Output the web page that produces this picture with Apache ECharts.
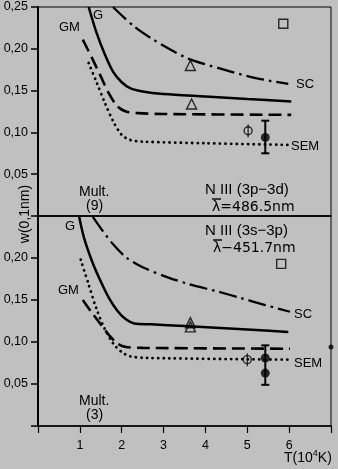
<!DOCTYPE html>
<html>
<head>
<meta charset="utf-8">
<script src="https://cdn.jsdelivr.net/npm/echarts@6/dist/echarts.min.js"></script>
<style>
  html, body { margin: 0; padding: 0; background: #c0c0c0; }
  #chart { width: 338px; height: 469px; }
</style>
</head>
<body>
<div id="chart"></div>
<script>
// curves, [T (10^4 K), w (0.1 nm)]
var topG   = [[1.21,0.25],[1.4,0.219],[1.6,0.193],[1.8,0.172],[2.0,0.160],[2.2,0.153],[2.5,0.149],[3,0.146],[4,0.143],[5,0.140],[6.05,0.137]];
var topGM  = [[1.07,0.211],[1.3,0.188],[1.5,0.167],[1.7,0.146],[1.9,0.131],[2.1,0.125],[2.4,0.123],[3,0.122],[6.05,0.121]];
var topSEM = [[1.21,0.183],[1.4,0.160],[1.6,0.135],[1.8,0.113],[2.0,0.097],[2.2,0.091],[2.5,0.089],[4,0.087],[6,0.085]];
var topSC  = [[1.79,0.25],[2.29,0.227],[2.69,0.213],[3.17,0.199],[3.6,0.188],[4.38,0.176],[5.2,0.165],[5.98,0.158]];

var botG   = [[0.98,0.25],[1.1,0.224],[1.3,0.195],[1.5,0.172],[1.7,0.152],[1.9,0.137],[2.1,0.127],[2.3,0.122],[2.7,0.121],[3.5,0.119],[5,0.115],[5.98,0.112]];
var botGM  = [[1.07,0.150],[1.3,0.134],[1.5,0.121],[1.7,0.108],[1.9,0.098],[2.1,0.094],[2.5,0.093],[6.02,0.092]];
var botSEM = [[1.02,0.198],[1.2,0.170],[1.4,0.139],[1.6,0.115],[1.8,0.098],[2.0,0.088],[2.2,0.083],[2.6,0.081],[6,0.079]];
var botSC  = [[1.31,0.249],[1.55,0.232],[1.8,0.216],[2.1,0.201],[2.5,0.189],[3.1,0.177],[3.6,0.169],[4.3,0.160],[4.8,0.153],[5.43,0.144],[6.02,0.136]];

// measured points
var topSquare   = [[5.86,0.23]];
var topTriangle = [[3.64,0.18],[3.67,0.134]];
var topPhi      = [[5.02,0.102]];
var topFilled   = [[5.43,0.094]];
var topErr      = [[5.43,0.075,0.114]];

var botSquare   = [[5.81,0.193]];
var botTriangle = [[3.64,0.118],[3.64,0.123]];
var botPhi      = [[5.0,0.079]];
var botFilled   = [[5.43,0.081],[5.43,0.063]];
var botErr      = [[5.43,0.049,0.096]];
var botEdge     = [[7,0.094]];

var xTicks = [1, 2, 3, 4, 5, 6];

var FONT = 'Liberation Sans, Arial, sans-serif';
var WIDE = 'DejaVu Sans, sans-serif';
var INK = '#000';

var myChart = echarts.init(document.getElementById('chart'));

function yAxis(idx, maxLabel) {
    return {
        type: 'value', gridIndex: idx, min: 0, max: 0.25, interval: 0.05,
        axisLine: { show: true, lineStyle: { color: INK, width: 2 } },
        axisTick: { show: true, length: 7, lineStyle: { color: INK, width: 1.5 } },
        splitLine: { show: false },
        axisLabel: {
            margin: 10, color: INK, fontFamily: FONT, fontSize: 12.5,
            formatter: function (v) {
                if (v < 0.01 || v > maxLabel + 0.001) return '';
                return v.toFixed(2).replace('.', ',');
            }
        }
    };
}

function xAxis(idx, labels) {
    return {
        type: 'value', gridIndex: idx, min: 0, max: 7, interval: 1,
        axisLine: { show: true, lineStyle: { color: INK, width: 1.5 } },
        axisTick: { show: labels, length: 7, lineStyle: { color: INK, width: 1.2 } },
        splitLine: { show: false },
        axisLabel: {
            show: labels, margin: 13, color: INK, fontFamily: FONT, fontSize: 12.5,
            formatter: function (v) { return xTicks.indexOf(v) >= 0 ? String(v) : ''; }
        }
    };
}

function curve(idx, data, type, width) {
    return {
        type: 'line', xAxisIndex: idx, yAxisIndex: idx, data: data,
        smooth: 0.3, symbol: 'none', silent: true,
        lineStyle: { color: INK, width: width, type: type, cap: type === dotted ? 'round' : 'butt' }
    };
}

function marks(idx, data, symbol, size, filled) {
    return {
        type: 'scatter', xAxisIndex: idx, yAxisIndex: idx, data: data,
        symbol: symbol, symbolSize: size, silent: true,
        itemStyle: filled ? { color: INK } : { color: 'transparent', borderColor: INK, borderWidth: 1.4 }
    };
}

function errBars(idx, data) {
    return {
        type: 'custom', xAxisIndex: idx, yAxisIndex: idx, data: data, silent: true,
        renderItem: function (params, api) {
            var lo = api.coord([api.value(0), api.value(1)]);
            var hi = api.coord([api.value(0), api.value(2)]);
            var st = { stroke: INK, lineWidth: 2 };
            return {
                type: 'group', children: [
                    { type: 'line', shape: { x1: lo[0], y1: lo[1], x2: hi[0], y2: hi[1] }, style: st },
                    { type: 'line', shape: { x1: lo[0] - 4, y1: lo[1], x2: lo[0] + 4, y2: lo[1] }, style: st },
                    { type: 'line', shape: { x1: hi[0] - 4, y1: hi[1], x2: hi[0] + 4, y2: hi[1] }, style: st }
                ]
            };
        }
    };
}

function phi(idx, data) {
    return [marks(idx, data, 'circle', 8, false), marks(idx, data, 'rect', [1.3, 13], true)];
}

function txt(x, y, s, size, font) {
    return {
        type: 'text', x: x, y: y, silent: true,
        style: { text: s, fill: INK, font: (size || 13) + 'px ' + (font || FONT), textAlign: 'left', textVerticalAlign: 'middle' }
    };
}

// short bar drawn over a lambda
function bar(x, y) {
    return { type: 'line', silent: true, shape: { x1: x, y1: y, x2: x + 9, y2: y }, style: { stroke: INK, lineWidth: 1.4 } };
}

var dashDot = [18, 5, 2.5, 5];
var dashed = [13, 6];
var dotted = [0.1, 5.5];

var option = {
    backgroundColor: '#c0c0c0',
    animation: false,
    grid: [
        { left: 38, top: 7, width: 293, height: 209, show: true, borderColor: INK, borderWidth: 1, backgroundColor: 'transparent' },
        { left: 38, top: 216, width: 293, height: 210, show: true, borderColor: INK, borderWidth: 1, backgroundColor: 'transparent' }
    ],
    xAxis: [xAxis(0, false), xAxis(1, true)],
    yAxis: [yAxis(0, 0.25), yAxis(1, 0.20)],
    series: [
        curve(0, topG, 'solid', 2.5),
        curve(0, topGM, dashed, 2.6),
        curve(0, topSEM, dotted, 2.8),
        curve(0, topSC, dashDot, 2.3),
        curve(1, botG, 'solid', 2.5),
        curve(1, botGM, dashed, 2.6),
        curve(1, botSEM, dotted, 2.8),
        curve(1, botSC, dashDot, 2.3),
        marks(0, topSquare, 'rect', 9, false),
        marks(0, topTriangle, 'triangle', 10, false),
        errBars(0, topErr),
        marks(0, topFilled, 'circle', 9, true),
        marks(1, botSquare, 'rect', 9, false),
        marks(1, botTriangle, 'triangle', 10, false),
        errBars(1, botErr),
        marks(1, botFilled, 'circle', 9, true),
        Object.assign(marks(1, botEdge, 'circle', 5, true), { clip: false })
    ].concat(phi(0, topPhi), phi(1, botPhi)),
    graphic: [
        txt(93, 15, 'G'),
        txt(59, 27, 'GM'),
        txt(296, 84, 'SC'),
        txt(291, 146, 'SEM'),
        txt(79, 192, 'Mult.', 14),
        txt(86, 206, '(9)', 14),
        txt(205, 190, 'N III (3p−3d)', 15),
        txt(212, 207, 'λ=486.5nm', 14, WIDE),
        bar(212, 199),
        txt(65, 226, 'G'),
        txt(58, 290, 'GM'),
        txt(294, 314, 'SC'),
        txt(294, 363, 'SEM'),
        txt(205, 231, 'N III (3s−3p)', 15),
        txt(213, 248, 'λ−451.7nm', 14, WIDE),
        bar(213, 240),
        txt(79, 401, 'Mult.', 14),
        txt(86, 415, '(3)', 14),
        {
            type: 'text', x: 284, y: 458, silent: true,
            style: {
                text: '{n|T(10}{s|4}{n|K)}', fill: INK, textVerticalAlign: 'middle',
                rich: { n: { font: '14px ' + FONT, fill: INK }, s: { font: '9px ' + FONT, fill: INK, verticalAlign: 'top', padding: [0, 0, 9, 0] } }
            }
        },
        {
            type: 'text', x: 25, y: 214, rotation: Math.PI / 2, silent: true,
            style: { text: 'w(0,1nm)', fill: INK, font: '14px ' + FONT, textAlign: 'center', textVerticalAlign: 'middle' }
        }
    ]
};
myChart.setOption(option);
</script>
</body>
</html>
